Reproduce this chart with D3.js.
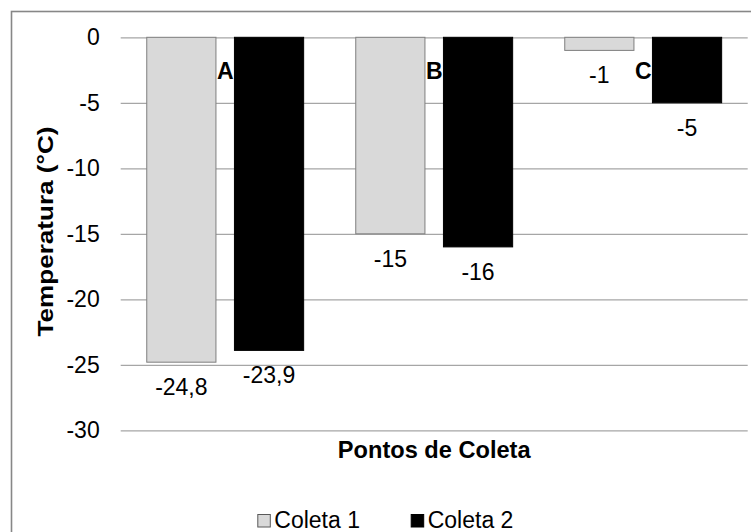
<!DOCTYPE html>
<html>
<head>
<meta charset="utf-8">
<script src="https://cdn.jsdelivr.net/npm/d3@7"></script>
<style>
  html, body { margin: 0; padding: 0; background: #fff; }
  svg { display: block; font-family: "Liberation Sans", Arial, sans-serif; }
</style>
</head>
<body>
<svg id="chart" width="751" height="532"></svg>
<script>
// Sampling points and the two temperature collections (°C)
const categories = ["A", "B", "C"];
const seriesNames = ["Coleta 1", "Coleta 2"];
const coleta1 = [-24.8, -15, -1];
const coleta2 = [-23.9, -16, -5];
const yTicks = [0, -5, -10, -15, -20, -25, -30];
const valueLabels1 = ["-24,8", "-15", "-1"];
const valueLabels2 = ["-23,9", "-16", "-5"];

const series = [
  { name: seriesNames[0], values: coleta1, labels: valueLabels1, fill: "#d9d9d9", stroke: "#7f7f7f" },
  { name: seriesNames[1], values: coleta2, labels: valueLabels2, fill: "#000000", stroke: "#000000" }
];

const svg = d3.select("#chart");

// outer chart frame (runs past the right and bottom edges)
svg.append("rect")
  .attr("x", 11.5).attr("y", 11.5)
  .attr("width", 800).attr("height", 600)
  .attr("fill", "#fff")
  .attr("stroke", "#878787")
  .attr("stroke-width", 1.6);

const plotLeft = 120.7, plotRight = 747.7;
const x0 = d3.scaleBand().domain(categories).range([plotLeft, plotRight]).paddingInner(0).paddingOuter(0);
const x1 = d3.scaleBand().domain(seriesNames).range([0, x0.bandwidth()]).paddingInner(0.211).paddingOuter(0.297);
const y = d3.scaleLinear().domain([-30, 0]).range([430.3, 37.3]);

// horizontal gridlines + tick labels via a left axis
const yAxis = d3.axisLeft(y)
  .tickValues(yTicks)
  .tickSize(-(plotRight - plotLeft))
  .tickPadding(21)
  .tickFormat(d => d3.format("d")(d).replace("−", "-"));

const gAxis = svg.append("g")
  .attr("transform", `translate(${plotLeft},0)`)
  .call(yAxis);
gAxis.select(".domain").remove();
gAxis.selectAll(".tick line")
  .attr("stroke", "#a6a6a6")
  .attr("stroke-width", 1.3);
gAxis.selectAll(".tick text")
  .attr("fill", "#000")
  .attr("font-size", 23)
  .attr("font-family", "Liberation Sans, Arial, sans-serif");

// bars
const groups = svg.append("g").selectAll("g")
  .data(series)
  .join("g");

groups.selectAll("rect")
  .data(s => s.values.map((v, i) => ({ cat: categories[i], v, s })))
  .join("rect")
  .attr("x", d => x0(d.cat) + x1(d.s.name))
  .attr("width", x1.bandwidth())
  .attr("y", d => Math.min(y(0), y(d.v)))
  .attr("height", d => Math.abs(y(d.v) - y(0)))
  .attr("fill", d => d.s.fill)
  .attr("stroke", d => d.s.stroke)
  .attr("stroke-width", 1);

// value labels under each bar end
groups.selectAll("text")
  .data(s => s.values.map((v, i) => ({ cat: categories[i], v, label: s.labels[i], s })))
  .join("text")
  .attr("x", d => x0(d.cat) + x1(d.s.name) + x1.bandwidth() / 2)
  .attr("y", d => y(d.v) + 33)
  .attr("text-anchor", "middle")
  .attr("font-size", 23)
  .attr("fill", "#000")
  .text(d => d.label);

// category names
svg.append("g").selectAll("text")
  .data(categories)
  .join("text")
  .attr("x", d => x0(d) + x0.bandwidth() / 2)
  .attr("y", 79)
  .attr("text-anchor", "middle")
  .attr("font-size", 23)
  .attr("font-weight", "bold")
  .attr("fill", "#000")
  .text(d => d);

// axis titles
svg.append("text")
  .attr("x", (plotLeft + plotRight) / 2)
  .attr("y", 458.3)
  .attr("text-anchor", "middle")
  .attr("font-size", 23.6)
  .attr("font-weight", "bold")
  .text("Pontos de Coleta");

svg.append("text")
  .attr("transform", "translate(53,231.5) rotate(-90)")
  .attr("text-anchor", "middle")
  .attr("font-size", 22)
  .attr("font-weight", "bold")
  .attr("textLength", 210)
  .attr("lengthAdjust", "spacingAndGlyphs")
  .text("Temperatura (°C)");

// legend
const legendX = [257.3, 410.7];
const legend = svg.append("g").selectAll("g")
  .data(series)
  .join("g")
  .attr("transform", (d, i) => `translate(${legendX[i]},514)`);
legend.append("rect")
  .attr("x", 0.5).attr("y", 0.5)
  .attr("width", 12.5).attr("height", 12.5)
  .attr("fill", d => d.fill)
  .attr("stroke", d => d.fill === "#000000" ? "#000" : "#595959")
  .attr("stroke-width", 1);
legend.append("text")
  .attr("x", 17)
  .attr("y", 14.3)
  .attr("font-size", 23)
  .attr("fill", "#000")
  .text(d => d.name);
</script>
</body>
</html>
